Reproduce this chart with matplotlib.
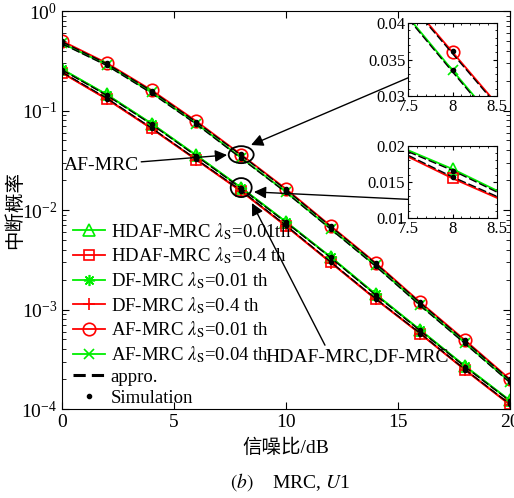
import matplotlib
matplotlib.use("Agg")
import matplotlib.pyplot as plt
from matplotlib.lines import Line2D
from matplotlib.patches import Ellipse
from matplotlib.transforms import ScaledTranslation
from matplotlib.ticker import LogLocator, NullFormatter, MultipleLocator, FixedLocator

plt.rcParams['font.family'] = ['Liberation Serif', 'Noto Sans CJK SC']
plt.rcParams['mathtext.fontset'] = 'stix'
plt.rcParams['font.size'] = 14

# SNR grid (dB)
snr = [0, 2, 4, 6, 8, 10, 12, 14, 16, 18, 20]

# outage probability, exact curves
af_001 = [0.50, 0.300, 0.160, 0.0780, 0.0360, 0.0163, 0.0069, 0.00295, 0.00118, 0.00049, 0.000199]
af_004 = [0.475, 0.288, 0.152, 0.0740, 0.0335, 0.0152, 0.0065, 0.00277, 0.00111, 0.00046, 0.000187]
hdaf_001 = [0.261, 0.145, 0.0740, 0.0355, 0.0168, 0.0076, 0.00337, 0.00143, 0.00062, 0.000270, 0.000122]
hdaf_04 = [0.240, 0.131, 0.0660, 0.0320, 0.0155, 0.0069, 0.00297, 0.00128, 0.00057, 0.000247, 0.000111]
df_001 = [0.259, 0.144, 0.0735, 0.0353, 0.0167, 0.0076, 0.00335, 0.00142, 0.00062, 0.000268, 0.000121]
df_04 = [0.239, 0.130, 0.0657, 0.0319, 0.0154, 0.0069, 0.00296, 0.00127, 0.00057, 0.000246, 0.000110]

# approximations
ap_af_001 = [0.490, 0.295, 0.157, 0.0765, 0.0355, 0.0160, 0.0068, 0.00290, 0.00116, 0.000480, 0.000195]
ap_af_004 = [0.468, 0.283, 0.149, 0.0727, 0.0330, 0.0150, 0.0064, 0.00272, 0.00109, 0.000452, 0.000184]
ap_hd_001 = [0.256, 0.142, 0.0725, 0.0348, 0.0165, 0.0075, 0.00331, 0.00140, 0.00061, 0.000265, 0.000120]
ap_hd_04 = [0.243, 0.133, 0.0668, 0.0323, 0.0157, 0.0070, 0.00300, 0.00129, 0.000575, 0.000249, 0.000112]

# Monte-Carlo simulation
sim_af_001 = [0.495, 0.298, 0.158, 0.0770, 0.0362, 0.0162, 0.0069, 0.00294, 0.00118, 0.000490, 0.000198]
sim_af_004 = [0.470, 0.285, 0.150, 0.0732, 0.0335, 0.0151, 0.0065, 0.00275, 0.00110, 0.000456, 0.000186]
sim_hd_001 = [0.258, 0.143, 0.0730, 0.0350, 0.0165, 0.0075, 0.00334, 0.00141, 0.00062, 0.000267, 0.000121]
sim_hd_04 = [0.242, 0.132, 0.0665, 0.0322, 0.0157, 0.0070, 0.00299, 0.00129, 0.00057, 0.000248, 0.000111]

# zoomed values around 8 dB
zoom_x = [7.5, 8.0, 8.5]
zoom_af_001 = [0.0431, 0.0360, 0.0289]
zoom_af_004 = [0.0408, 0.0335, 0.0263]
zoom_ap_af_001 = [0.0429, 0.0358, 0.0287]
zoom_ap_af_004 = [0.0406, 0.0333, 0.0261]
zoom_hd_001 = [0.0194, 0.0168, 0.0138]
zoom_hd_04 = [0.0185, 0.0155, 0.0128]
zoom_ap_hd_001 = [0.0192, 0.0166, 0.0136]
zoom_ap_hd_04 = [0.0187, 0.0157, 0.0130]
zoom_sim_x = [8.0]
zoom_sim_af = [0.0362, 0.0335]
zoom_sim_hd = [0.0165, 0.0157]

labels = [
    'HDAF-MRC $\\lambda_\\mathrm{S}$=0.01th',
    'HDAF-MRC $\\lambda_\\mathrm{S}$=0.4 th',
    'DF-MRC $\\lambda_\\mathrm{S}$=0.01 th',
    'DF-MRC $\\lambda_\\mathrm{S}$=0.4 th',
    'AF-MRC $\\lambda_\\mathrm{S}$=0.01 th',
    'AF-MRC $\\lambda_\\mathrm{S}$=0.04 th',
    'appro.',
    'Simulation',
]

G = '#00ee00'
R = '#ff0000'
styles = [
    dict(color=G, marker='^', ms=9, mfc='none', mew=1.2),
    dict(color=R, marker='s', ms=6.5, mfc='none', mew=1.2),
    dict(color=G, marker=(8, 2, 0), ms=8, mew=1.2),
    dict(color=R, marker='+', ms=9, mew=1.2),
    dict(color=R, marker='o', ms=9, mfc='none', mew=1.2),
    dict(color=G, marker='x', ms=6.5, mew=1.2),
]
series = [hdaf_001, hdaf_04, df_001, df_04, af_001, af_004]
approx = [ap_hd_001, ap_hd_04, ap_af_001, ap_af_004]
sims = [sim_hd_001, sim_hd_04, sim_af_001, sim_af_004]

fig = plt.figure(figsize=(5.14, 4.98), dpi=100)
ax = fig.add_axes([0.1206, 0.1787, 0.8716, 0.7992])

handles = []
for ys, st in zip(series, styles):
    h, = ax.plot(snr, ys, lw=1.3, zorder=2, **st)
    handles.append(h)
for ys in approx:
    ax.plot(snr, ys, color='k', lw=1.0, ls=(0, (6, 2)), zorder=3)
for ys in sims:
    ax.plot(snr, ys, 'k.', ms=6, zorder=4)

handles.append(Line2D([], [], color='k', lw=2.2, ls=(0, (4, 2))))
handles.append(Line2D([], [], color='k', marker='.', ms=6, ls='none'))

ax.set_yscale('log')
ax.set_xlim(0, 20)
ax.set_ylim(1e-4, 1)
ax.xaxis.set_major_locator(FixedLocator([0, 5, 10, 15, 20]))
ax.yaxis.set_major_locator(LogLocator(base=10, numticks=10))
ax.yaxis.set_minor_locator(LogLocator(base=10, subs=range(2, 10), numticks=10))
ax.yaxis.set_minor_formatter(NullFormatter())
ax.tick_params(which='both', direction='in', top=True, right=True, labelsize=14)
ax.tick_params(which='major', length=5)
ax.tick_params(which='minor', length=3)

ax.set_xlabel('信噪比/dB', fontsize=14)
ax.set_ylabel('中断概率', fontsize=14)
ax.xaxis.set_label_coords(0.5, -0.075)
ax.yaxis.set_label_coords(-0.085, 0.5)

ax.legend(handles, labels, loc='lower left', bbox_to_anchor=(0.0, -0.023),
          frameon=False, fontsize=13.5, handlelength=1.7, handletextpad=0.3,
          labelspacing=0.21, borderaxespad=0.2)

# circles around the 8 dB points
for yc, w, h in [(af_001[4], 0.25, 0.17), (hdaf_001[4], 0.21, 0.19)]:
    tr = fig.dpi_scale_trans + ScaledTranslation(8, yc, ax.transData)
    ax.add_patch(Ellipse((0, 0), w, h, transform=tr, fill=False,
                         ec='k', lw=1.3, zorder=5, clip_on=False))

arrow = dict(arrowstyle='-|>', color='k', lw=1.0, mutation_scale=18,
             shrinkA=0, shrinkB=0)

ax.annotate('AF-MRC', xy=(7.37, 0.0357), xytext=(0.003, 0.613),
            textcoords='axes fraction', ha='left', va='center', fontsize=14,
            arrowprops=arrow)
ax.annotate('HDAF-MRC,DF-MRC', xy=(8.48, 0.01175), xytext=(0.455, 0.132),
            textcoords='axes fraction', ha='left', va='center', fontsize=14,
            arrowprops=dict(arrow, relpos=(0.33, 1.0)))

# zoomed insets
ins1 = fig.add_axes([0.794, 0.807, 0.173, 0.147])
ins2 = fig.add_axes([0.794, 0.562, 0.173, 0.145])

for ys, st in zip([zoom_af_001, zoom_af_004], [styles[4], styles[5]]):
    ins1.plot(zoom_x, ys, lw=1.3, markevery=[1], **st)
for ys in [zoom_ap_af_001, zoom_ap_af_004]:
    ins1.plot(zoom_x, ys, color='k', lw=1.0, ls=(0, (6, 2)))
ins1.plot(zoom_sim_x * 2, zoom_sim_af, 'k.', ms=6, zorder=4)

for ys, st in zip([zoom_hd_001, zoom_hd_04], [styles[0], styles[1]]):
    ins2.plot(zoom_x, ys, lw=1.3, markevery=[1], **st)
for ys in [zoom_ap_hd_001, zoom_ap_hd_04]:
    ins2.plot(zoom_x, ys, color='k', lw=1.0, ls=(0, (6, 2)))
ins2.plot(zoom_sim_x * 2, zoom_sim_hd, 'k.', ms=6, zorder=4)

for ins, lo, hi in [(ins1, 0.03, 0.04), (ins2, 0.01, 0.02)]:
    ins.set_xlim(7.5, 8.5)
    ins.set_ylim(lo, hi)
    ins.xaxis.set_major_locator(FixedLocator([7.5, 8, 8.5]))
    ins.yaxis.set_major_locator(MultipleLocator(0.005))
    ins.yaxis.set_minor_locator(MultipleLocator(0.001))
    ins.xaxis.set_minor_locator(MultipleLocator(0.1))
    ins.set_xticklabels(['7.5', '8', '8.5'])
    ins.set_yticklabels([f'{v:g}' for v in ins.get_yticks()])
    ins.tick_params(which='both', direction='in', top=True, right=True,
                    labelsize=12, pad=2)
    ins.tick_params(which='major', length=3)
    ins.tick_params(which='minor', length=1.5)

ax.annotate('', xy=(8.44, 0.045), xycoords='data', xytext=(0.0, 0.25),
            textcoords=ins1.transAxes, arrowprops=arrow)
ax.annotate('', xy=(8.57, 0.0152), xycoords='data', xytext=(0.0, 0.26),
            textcoords=ins2.transAxes, arrowprops=arrow)

fig.text(0.564, 1 - 482 / 498, '$(b)$    MRC, $U$1', ha='center', va='center',
         fontsize=14)

fig.savefig('out.png', dpi=100)
